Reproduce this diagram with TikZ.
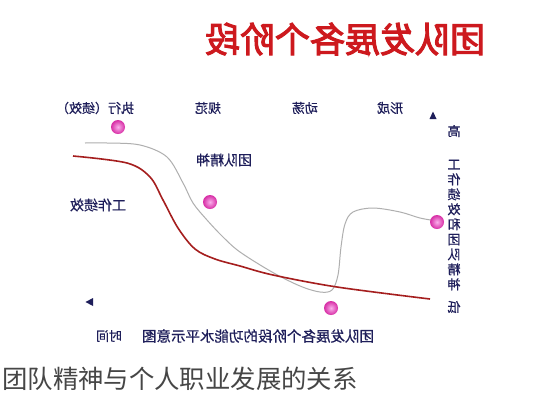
\documentclass[tikz,border=0pt]{standalone}
\usepackage{fontspec}
\newfontfamily\cjk{Noto Sans CJK SC}[FakeBold=0.6]
\newfontfamily\cjkplain{Noto Sans CJK SC}
\newfontfamily\cjkb{Noto Sans CJK SC}[FakeBold=3]
\definecolor{navy}{RGB}{30,30,90}
\definecolor{titlered}{RGB}{205,25,30}
\definecolor{perfred}{RGB}{165,30,30}
\definecolor{spiritgray}{RGB}{175,175,175}
\definecolor{dotin}{RGB}{250,175,235}
\definecolor{dotout}{RGB}{215,45,165}
\definecolor{captiongray}{RGB}{70,70,70}
\begin{document}
\begin{tikzpicture}[x=1pt,y=-1pt,
  mirror/.style={xscale=-1,inner sep=0pt},
  lbl/.style={mirror,text=navy,font=\cjk\fontsize{13}{15}\selectfont},
  dotnode/.style={circle,minimum size=14pt,inner sep=0pt,inner color=dotin,outer color=dotout},
  perf/.style={draw=perfred,line width=1.6pt},
  spirit/.style={draw=spiritgray,line width=1pt},
  tri/.style={fill=navy}]
\useasboundingbox (0,0) rectangle (533,400);
\fill[white] (0,0) rectangle (533,400);
% title (mirrored)
\node[mirror,text=titlered,font=\cjkb\fontsize{35}{37}\selectfont] (title) at (345,39) {团队发展各个阶段};
% stage labels
\node[lbl] (s4) at (95,108) {执行（绩效）};
\node[lbl] (s3) at (208,108) {规范};
\node[lbl] (s2) at (305,108) {动荡};
\node[lbl] (s1) at (390,108) {形成};
% curve labels
\node[lbl,font=\cjk\fontsize{14}{16}\selectfont] (lspirit) at (224,160) {团队精神};
\node[lbl,font=\cjk\fontsize{14}{16}\selectfont] (lperf) at (98,205) {工作绩效};
% vertical axis text
\node[lbl] (hi) at (454,131) {高};
\node[lbl,align=center,font=\cjk\fontsize{13}{15}\selectfont] (vaxis) at (454,225) {工\\作\\绩\\效\\和\\团\\队\\精\\神};
\node[lbl] (lo) at (454,307) {低};
% bottom axis text
\node[lbl] (time) at (109,336) {时间};
\node[lbl,font=\cjk\fontsize{14.5}{16}\selectfont] (xcap) at (258,336) {团队发展各个阶段的功能水平示意图};
% arrow triangles
\fill[tri] (433,111.5) -- (429.5,119) -- (436.5,119) -- cycle;
\fill[tri] (85.5,302) -- (93,298) -- (93,306) -- cycle;
% curves
\draw[spirit] plot[smooth,tension=0.55] coordinates {(85,143) (107,143) (140,145) (167,157) (183,183) (193,203) (207,220) (223,237) (240,252) (272,272) (300,286) (320,292) (332,290) (338,275) (341,247) (345,224) (353,212) (373,208) (400,212) (420,218) (437,221)};
\draw[perf] plot[smooth,tension=0.55] coordinates {(73,156) (127,163) (150,177) (163,200) (178,228) (195,249) (215,259) (240,266) (273,275) (337,287) (430,299)};
% stage dots
\node[dotnode] (d1) at (118,127) {};
\node[dotnode] (d2) at (210,202) {};
\node[dotnode] (d3) at (331,308) {};
\node[dotnode] (d4) at (437,222) {};
% caption
\node[anchor=west,inner sep=0pt,text=captiongray,font=\cjkplain\fontsize{25.4}{27}\selectfont] (caption) at (2,379) {团队精神与个人职业发展的关系};
\end{tikzpicture}
\end{document}
